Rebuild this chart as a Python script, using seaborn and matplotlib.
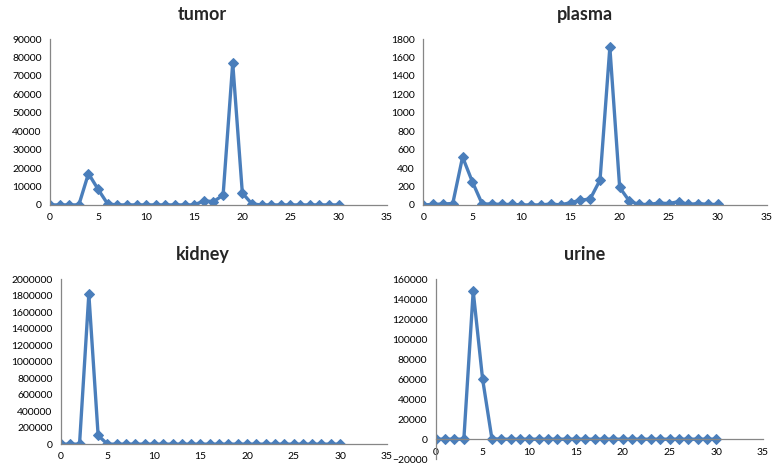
import matplotlib
matplotlib.use("Agg")
import matplotlib.pyplot as plt
from matplotlib.ticker import MultipleLocator, StrMethodFormatter
import seaborn as sns

# fraction number 0..30 and measured signal per sample type
fractions = list(range(31))
tumor = [0, 0, 0, 0, 17000, 8500, 500, 0, 0, 0, 0, 0, 0, 0, 0, 0,
         2200, 1800, 5300, 77000, 6500, 500, 0, 0, 0, 0, 0, 0, 0, 0, 0]
plasma = [0, 5, 10, 15, 520, 250, 10, 10, 5, 5, 0, 0, 0, 10, 0, 25,
          50, 65, 270, 1710, 190, 40, 5, 5, 20, 15, 35, 5, 15, 5, 5]
kidney = [0, 0, 0, 1820000, 105000, 0, 0, 0, 0, 0, 0, 0, 0, 0, 0, 0,
          0, 0, 0, 0, 0, 0, 0, 0, 0, 0, 0, 0, 0, 0, 0]
urine = [0, 0, 0, 0, 148000, 60500, 500, 0, 0, 0, 0, 0, 0, 0, 0, 0,
         0, 0, 0, 0, 0, 0, 0, 0, 0, 0, 0, 0, 0, 0, 0]

titles = ["tumor", "plasma", "kidney", "urine"]
series = [tumor, plasma, kidney, urine]
y_limits = [(0, 90000), (0, 1800), (0, 2000000), (-20000, 160000)]
y_steps = [10000, 200, 200000, 20000]

sns.set_style("white")
plt.rcParams['font.family'] = ['Lato', 'DejaVu Sans']

LINE = "#4a7ebb"
AXIS = "#868686"

fig = plt.figure(figsize=(7.81, 4.70), dpi=100)
# axes boxes [left, bottom, width, height] and title x position
boxes = [
    [0.064, 0.564, 0.431, 0.353],
    [0.542, 0.564, 0.440, 0.353],
    [0.078, 0.055, 0.417, 0.351],
    [0.558, 0.023, 0.419, 0.383],
]
title_x = [0.454, 0.47, 0.436, 0.456]

for box, name, vals, ylim, step, tx in zip(boxes, titles, series, y_limits, y_steps, title_x):
    ax = fig.add_axes(box)
    sns.lineplot(x=fractions, y=vals, ax=ax, color=LINE, linewidth=2.4,
                 marker="D", markersize=5.5, markeredgecolor=LINE)
    ax.set_xlim(0, 35)
    ax.set_ylim(*ylim)
    ax.xaxis.set_major_locator(MultipleLocator(5))
    ax.yaxis.set_major_locator(MultipleLocator(step))
    ax.yaxis.set_major_formatter(StrMethodFormatter("{x:.0f}"))
    for side in ["top", "right"]:
        ax.spines[side].set_visible(False)
    for side in ["left", "bottom"]:
        ax.spines[side].set_color(AXIS)
        ax.spines[side].set_linewidth(0.9)
    if ylim[0] < 0:
        ax.spines["bottom"].set_position(("data", 0))
    ax.tick_params(axis="both", direction="out", length=4, width=0.9,
                   color=AXIS, labelsize=7.5, labelcolor="black", pad=2)
    ax.set_xlabel("")
    ax.set_ylabel("")
    ax.set_title(name, x=tx, y=1.0, pad=14, fontsize=13, fontweight="bold")

fig.savefig("out.png", dpi=100)
